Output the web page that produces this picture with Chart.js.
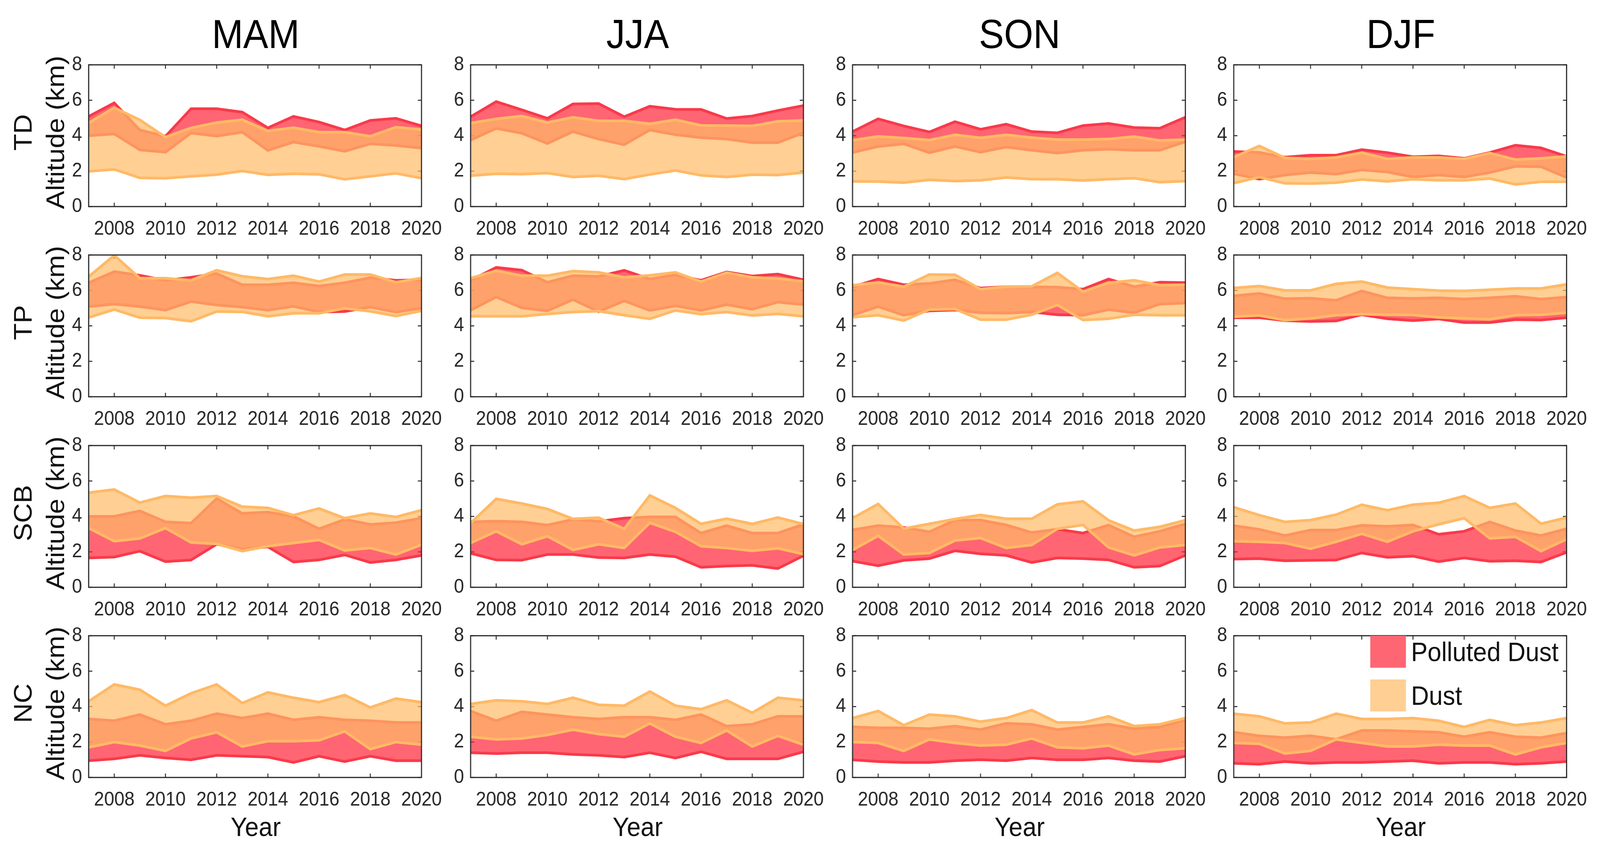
<!DOCTYPE html>
<html><head><meta charset="utf-8">
<script src="https://cdn.jsdelivr.net/npm/chart.js@4.4.1/dist/chart.umd.min.js"></script>
<style>
html,body{margin:0;padding:0;background:#fff;overflow:hidden;width:100vw;height:100vh;}
#root{position:absolute;left:0;top:0;width:4386px;height:2187px;overflow:hidden;background:#fff;font-family:'Liberation Sans',Arial,Helvetica,sans-serif;color:#111;transform-origin:0 0;}
#root canvas{position:absolute;}
.t{position:absolute;white-space:nowrap;line-height:1;}
</style></head><body><div id="root"></div>
<script>
// ---------------- data ----------------
const years = [2007,2008,2009,2010,2011,2012,2013,2014,2015,2016,2017,2018,2019,2020];
const xTickYears = [2008,2010,2012,2014,2016,2018,2020];
const yTickValues = [0,2,4,6,8];
const seasons = ['MAM','JJA','SON','DJF'];
const regions = ['TD','TP','SCB','NC'];
const legendLabels = ['Polluted Dust','Dust'];

// TD
const TD_MAM_pdLow  = [4.00,4.10,3.20,3.07,4.15,3.98,4.20,3.17,3.64,3.40,3.12,3.54,3.45,3.30];
const TD_MAM_pdHigh = [5.09,5.85,4.32,3.97,5.52,5.52,5.33,4.44,5.09,4.77,4.32,4.86,4.98,4.55];
const TD_MAM_duLow  = [1.99,2.10,1.62,1.60,1.71,1.80,2.01,1.79,1.85,1.82,1.54,1.71,1.88,1.60];
const TD_MAM_duHigh = [4.72,5.58,4.89,3.92,4.44,4.74,4.90,4.27,4.45,4.20,4.20,3.97,4.48,4.35];

const TD_JJA_pdLow  = [3.75,4.41,4.14,3.56,4.23,3.81,3.49,4.32,4.06,3.89,3.81,3.61,3.61,4.16];
const TD_JJA_pdHigh = [5.07,5.92,5.46,4.98,5.79,5.81,5.07,5.66,5.49,5.48,4.97,5.11,5.42,5.70];
const TD_JJA_duLow  = [1.74,1.85,1.83,1.89,1.67,1.74,1.55,1.81,2.04,1.76,1.67,1.80,1.78,1.92];
const TD_JJA_duHigh = [4.71,4.95,5.11,4.74,5.04,4.84,4.84,4.67,4.90,4.58,4.57,4.55,4.81,4.86];

const TD_SON_pdLow  = [3.05,3.39,3.54,3.04,3.39,3.07,3.36,3.18,3.02,3.18,3.24,3.18,3.18,3.66];
const TD_SON_pdHigh = [4.23,4.95,4.55,4.21,4.79,4.36,4.65,4.23,4.16,4.57,4.69,4.46,4.42,5.04];
const TD_SON_duLow  = [1.42,1.41,1.35,1.51,1.44,1.48,1.64,1.55,1.54,1.47,1.55,1.60,1.38,1.44];
const TD_SON_duHigh = [3.74,3.96,3.87,3.75,4.05,3.88,4.05,3.89,3.78,3.78,3.81,3.95,3.73,3.78];

const TD_DJF_pdLow  = [1.85,1.55,1.78,1.92,1.83,2.07,1.95,1.67,1.78,1.67,1.92,2.27,2.25,1.64];
const TD_DJF_pdHigh = [3.11,3.05,2.79,2.90,2.90,3.21,3.04,2.81,2.86,2.72,3.05,3.46,3.31,2.83];
const TD_DJF_duLow  = [1.32,1.67,1.31,1.30,1.35,1.53,1.42,1.54,1.48,1.48,1.58,1.25,1.40,1.40];
const TD_DJF_duHigh = [2.79,3.42,2.75,2.69,2.77,3.04,2.69,2.77,2.77,2.69,3.02,2.65,2.72,2.83];

// TP
const TP_MAM_pdLow  = [5.09,5.23,5.09,4.89,5.37,5.18,5.06,4.89,5.10,4.78,4.81,5.06,4.78,5.00];
const TP_MAM_pdHigh = [6.43,7.06,6.85,6.57,6.74,6.95,6.32,6.32,6.43,6.25,6.43,6.72,6.57,6.60];
const TP_MAM_duLow  = [4.47,4.92,4.46,4.44,4.26,4.81,4.79,4.54,4.71,4.71,4.99,4.82,4.56,4.85];
const TP_MAM_duHigh = [6.78,7.98,6.69,6.69,6.57,7.14,6.80,6.64,6.83,6.50,6.90,6.90,6.46,6.70];

const TP_JJA_pdLow  = [4.88,5.63,5.02,4.85,5.48,4.80,5.41,4.87,5.13,4.87,5.20,4.94,5.34,5.20];
const TP_JJA_pdHigh = [6.57,7.30,7.14,6.46,6.83,6.79,7.13,6.64,6.88,6.57,7.04,6.81,6.92,6.60];
const TP_JJA_duLow  = [4.54,4.54,4.54,4.67,4.78,4.83,4.60,4.40,4.87,4.66,4.78,4.59,4.68,4.54];
const TP_JJA_duHigh = [6.69,7.11,6.83,6.83,7.09,7.02,6.74,6.85,7.02,6.50,7.00,6.74,6.67,6.51];

const TP_SON_pdLow  = [4.60,5.09,4.60,4.85,4.89,4.74,4.72,4.78,4.63,4.60,4.92,4.74,5.23,5.29];
const TP_SON_pdHigh = [6.20,6.64,6.32,6.39,6.60,6.13,6.21,6.20,6.18,6.07,6.64,6.21,6.46,6.44];
const TP_SON_duLow  = [4.49,4.60,4.30,4.92,4.95,4.35,4.35,4.63,5.18,4.33,4.40,4.63,4.60,4.60];
const TP_SON_duHigh = [6.29,6.45,6.21,6.90,6.88,6.07,6.21,6.23,6.99,5.93,6.43,6.57,6.30,6.32];

const TP_DJF_pdLow  = [4.46,4.46,4.30,4.25,4.28,4.63,4.40,4.30,4.39,4.19,4.19,4.35,4.33,4.46];
const TP_DJF_pdHigh = [5.69,5.83,5.53,5.56,5.44,5.97,5.58,5.55,5.58,5.51,5.58,5.67,5.51,5.62];
const TP_DJF_duLow  = [4.52,4.59,4.32,4.42,4.60,4.66,4.63,4.61,4.48,4.42,4.37,4.60,4.63,4.74];
const TP_DJF_duHigh = [6.14,6.25,6.00,6.00,6.37,6.50,6.16,6.07,5.99,5.97,6.04,6.11,6.11,6.34];

// SCB
const SCB_MAM_pdLow  = [1.66,1.71,2.04,1.45,1.54,2.43,2.15,2.28,1.43,1.55,1.83,1.40,1.55,1.80];
const SCB_MAM_pdHigh = [4.00,4.00,4.31,3.69,3.62,5.01,4.17,4.24,4.00,3.30,3.83,3.55,3.65,3.90];
const SCB_MAM_duLow  = [3.34,2.60,2.76,3.34,2.53,2.45,2.04,2.32,2.50,2.67,2.08,2.22,1.85,2.40];
const SCB_MAM_duHigh = [5.34,5.52,4.78,5.15,5.06,5.15,4.55,4.48,4.07,4.45,3.90,4.17,3.97,4.35];

const SCB_JJA_pdLow  = [1.92,1.55,1.53,1.85,1.85,1.68,1.66,1.85,1.73,1.13,1.20,1.24,1.06,1.78];
const SCB_JJA_pdHigh = [3.69,3.73,3.69,3.51,3.83,3.72,3.90,3.97,3.97,3.06,3.48,3.06,3.06,3.55];
const SCB_JJA_duLow  = [2.50,3.16,2.43,2.88,2.11,2.43,2.22,3.64,3.13,2.32,2.22,2.06,2.20,1.87];
const SCB_JJA_duHigh = [3.62,4.99,4.73,4.42,3.86,3.93,3.30,5.19,4.48,3.58,3.87,3.58,3.94,3.57];

const SCB_SON_pdLow  = [1.48,1.22,1.52,1.62,2.06,1.89,1.80,1.40,1.66,1.62,1.55,1.13,1.20,1.80];
const SCB_SON_pdHigh = [3.24,3.48,3.38,3.13,3.79,3.79,3.52,3.09,3.28,3.06,3.51,2.85,3.16,3.58];
const SCB_SON_duLow  = [2.11,2.90,1.85,1.94,2.64,2.78,2.22,2.39,3.30,3.52,2.25,1.80,2.25,2.39];
const SCB_SON_duHigh = [3.90,4.70,3.31,3.58,3.85,4.08,3.87,3.87,4.68,4.85,3.78,3.20,3.41,3.79];

const SCB_DJF_pdLow  = [1.59,1.62,1.50,1.52,1.54,1.94,1.69,1.76,1.45,1.66,1.47,1.50,1.43,1.97];
const SCB_DJF_pdHigh = [3.48,3.27,2.92,3.23,3.23,3.50,3.44,3.52,2.99,3.16,3.69,3.20,2.92,3.30];
const SCB_DJF_duLow  = [2.60,2.57,2.50,2.18,2.57,3.02,2.57,3.16,3.55,3.90,2.76,2.85,2.04,2.71];
const SCB_DJF_duHigh = [4.52,4.07,3.69,3.79,4.10,4.66,4.35,4.66,4.77,5.15,4.48,4.73,3.59,3.93];

// NC
const NC_MAM_pdLow  = [0.95,1.05,1.25,1.10,1.00,1.25,1.20,1.15,0.85,1.20,0.90,1.20,0.95,0.95];
const NC_MAM_pdHigh = [3.30,3.20,3.55,3.00,3.20,3.60,3.35,3.60,3.25,3.40,3.25,3.20,3.10,3.10];
const NC_MAM_duLow  = [1.70,2.00,1.80,1.50,2.20,2.55,1.75,2.05,2.05,2.10,2.60,1.60,2.00,1.85];
const NC_MAM_duHigh = [4.30,5.25,4.95,4.05,4.75,5.25,4.20,4.80,4.50,4.25,4.65,3.95,4.45,4.25];

const NC_JJA_pdLow  = [1.40,1.35,1.40,1.40,1.30,1.25,1.15,1.40,1.10,1.45,1.05,1.05,1.05,1.45];
const NC_JJA_pdHigh = [3.75,3.20,3.70,3.55,3.40,3.30,3.40,3.40,3.25,3.55,2.90,3.00,3.45,3.45];
const NC_JJA_duLow  = [2.30,2.15,2.20,2.40,2.70,2.45,2.30,3.05,2.30,1.95,2.65,1.75,2.35,1.85];
const NC_JJA_duHigh = [4.15,4.35,4.30,4.15,4.50,4.10,4.05,4.85,4.05,3.85,4.35,3.65,4.50,4.35];

const NC_SON_pdLow  = [1.00,0.90,0.85,0.85,0.95,1.00,0.95,1.10,1.00,1.00,1.10,0.95,0.90,1.20];
const NC_SON_pdHigh = [2.85,2.80,2.80,2.75,2.90,2.70,3.05,3.00,2.70,2.85,3.00,2.75,2.85,3.25];
const NC_SON_duLow  = [2.00,1.95,1.50,2.15,1.95,1.80,1.85,2.20,1.70,1.65,1.80,1.30,1.55,1.65];
const NC_SON_duHigh = [3.35,3.75,2.95,3.55,3.45,3.15,3.35,3.80,3.10,3.10,3.45,2.90,3.00,3.35];

const NC_DJF_pdLow  = [0.80,0.75,0.90,0.80,0.85,0.85,0.90,0.95,0.80,0.85,0.85,0.75,0.80,0.90];
const NC_DJF_pdHigh = [2.55,2.35,2.25,2.35,2.15,2.65,2.65,2.60,2.55,2.30,2.55,2.30,2.25,2.50];
const NC_DJF_duLow  = [1.95,1.90,1.35,1.50,2.15,1.95,1.75,1.75,1.85,1.80,1.80,1.30,1.70,1.95];
const NC_DJF_duHigh = [3.60,3.45,3.05,3.10,3.60,3.30,3.30,3.35,3.20,2.85,3.25,2.95,3.10,3.35];

// panel table built from the named arrays
const panelSeries = [
  [
    [TD_MAM_pdLow,TD_MAM_pdHigh,TD_MAM_duLow,TD_MAM_duHigh],
    [TD_JJA_pdLow,TD_JJA_pdHigh,TD_JJA_duLow,TD_JJA_duHigh],
    [TD_SON_pdLow,TD_SON_pdHigh,TD_SON_duLow,TD_SON_duHigh],
    [TD_DJF_pdLow,TD_DJF_pdHigh,TD_DJF_duLow,TD_DJF_duHigh]
  ],[
    [TP_MAM_pdLow,TP_MAM_pdHigh,TP_MAM_duLow,TP_MAM_duHigh],
    [TP_JJA_pdLow,TP_JJA_pdHigh,TP_JJA_duLow,TP_JJA_duHigh],
    [TP_SON_pdLow,TP_SON_pdHigh,TP_SON_duLow,TP_SON_duHigh],
    [TP_DJF_pdLow,TP_DJF_pdHigh,TP_DJF_duLow,TP_DJF_duHigh]
  ],[
    [SCB_MAM_pdLow,SCB_MAM_pdHigh,SCB_MAM_duLow,SCB_MAM_duHigh],
    [SCB_JJA_pdLow,SCB_JJA_pdHigh,SCB_JJA_duLow,SCB_JJA_duHigh],
    [SCB_SON_pdLow,SCB_SON_pdHigh,SCB_SON_duLow,SCB_SON_duHigh],
    [SCB_DJF_pdLow,SCB_DJF_pdHigh,SCB_DJF_duLow,SCB_DJF_duHigh]
  ],[
    [NC_MAM_pdLow,NC_MAM_pdHigh,NC_MAM_duLow,NC_MAM_duHigh],
    [NC_JJA_pdLow,NC_JJA_pdHigh,NC_JJA_duLow,NC_JJA_duHigh],
    [NC_SON_pdLow,NC_SON_pdHigh,NC_SON_duLow,NC_SON_duHigh],
    [NC_DJF_pdLow,NC_DJF_pdHigh,NC_DJF_duLow,NC_DJF_duHigh]
  ]
];

// ---------------- layout & style ----------------
const DESIGN_W = 4386, DESIGN_H = 2187;
const colLeft = [243,1290,2337,3382];
const rowTop  = [148,635,1123,1610];
const PW = 916, PH = 381;
const PAD_L = 120, PAD_T = 30, PAD_R = 80, PAD_B = 100;
const PD_LINE = 'rgb(249,58,74)';
const PD_FILL = 'rgba(255,36,55,0.7)';
const DU_LINE = 'rgb(255,185,102)';
const DU_FILL = 'rgba(255,186,102,0.7)';
const AXIS = '#262626';
const LW = 7, TL = 10;
const FONT = "'Liberation Sans', Arial, sans-serif";

const root = document.getElementById('root');
// fit the design box to the actual window
const vw = window.innerWidth || document.documentElement.clientWidth || DESIGN_W;
const vh = window.innerHeight || document.documentElement.clientHeight || DESIGN_H;
const sx = vw / DESIGN_W, sy = vh / DESIGN_H;
if (Math.abs(sx-1) > 0.002 || Math.abs(sy-1) > 0.002) root.style.transform = `scale(${sx},${sy})`;
const DPR = (window.devicePixelRatio || 1) * Math.max(sx, sy, 0.5);

const boxPlugin = {
  id:'matlabBox',
  beforeDatasetsDraw(chart){
    const {ctx, chartArea:a, scales:{x,y}} = chart;
    ctx.save();
    ctx.strokeStyle = AXIS; ctx.lineWidth = 2.5; ctx.beginPath();
    xTickYears.forEach(v=>{const px=x.getPixelForValue(v);
      ctx.moveTo(px,a.bottom); ctx.lineTo(px,a.bottom-TL);
      ctx.moveTo(px,a.top); ctx.lineTo(px,a.top+TL);});
    yTickValues.forEach(v=>{const py=y.getPixelForValue(v);
      ctx.moveTo(a.left,py); ctx.lineTo(a.left+TL,py);
      ctx.moveTo(a.right,py); ctx.lineTo(a.right-TL,py);});
    ctx.stroke(); ctx.restore();
  },
  afterDatasetsDraw(chart){
    const {ctx, chartArea:a} = chart;
    ctx.save(); ctx.strokeStyle = AXIS; ctx.lineWidth = 3;
    ctx.strokeRect(a.left, a.top, a.right-a.left, a.bottom-a.top);
    ctx.restore();
  }
};

function addText(txt, left, top, size, extra){
  const d = document.createElement('div');
  d.className = 't'; d.textContent = txt;
  d.style.left = left+'px'; d.style.top = top+'px'; d.style.fontSize = size+'px';
  if (extra) Object.assign(d.style, extra);
  root.appendChild(d); return d;
}

function makePanel(r, c){
  const [pdLow, pdHigh, duLow, duHigh] = panelSeries[r][c];
  const cv = document.createElement('canvas');
  const W = PW+PAD_L+PAD_R, H = PH+PAD_T+PAD_B;
  cv.style.width = W+'px'; cv.style.height = H+'px';
  cv.style.left = (colLeft[c]-PAD_L)+'px'; cv.style.top = (rowTop[r]-PAD_T)+'px';
  cv.width = W; cv.height = H;
  root.appendChild(cv);
  const pts = arr => years.map((yr,i)=>({x:yr, y:arr[i]}));
  const tickFont = {family:FONT, size:50};
  new Chart(cv, {
    type:'line',
    data:{datasets:[
      {label:legendLabels[0]+' bottom', data:pts(pdLow), borderColor:PD_LINE, borderWidth:LW, fill:false, order:3},
      {label:legendLabels[0], data:pts(pdHigh), borderColor:PD_LINE, borderWidth:LW, backgroundColor:PD_FILL, fill:0, order:4},
      {label:legendLabels[1]+' bottom', data:pts(duLow), borderColor:DU_LINE, borderWidth:LW, fill:false, order:1},
      {label:legendLabels[1], data:pts(duHigh), borderColor:DU_LINE, borderWidth:LW, backgroundColor:DU_FILL, fill:2, order:2}
    ]},
    options:{
      responsive:false, animation:false, devicePixelRatio:DPR,
      layout:{padding:{left:0, top:PAD_T, right:PAD_R, bottom:0}},
      elements:{point:{radius:0, hoverRadius:0}, line:{tension:0, borderJoinStyle:'miter', borderCapStyle:'butt'}},
      plugins:{legend:{display:false}, tooltip:{enabled:false}},
      events:[],
      scales:{
        x:{type:'linear', min:2007, max:2020,
           afterBuildTicks:sc=>{sc.ticks = xTickYears.map(v=>({value:v}));},
           afterFit:sc=>{sc.height = PAD_B;},
           grid:{display:false, drawTicks:false}, border:{display:false},
           ticks:{padding:28, font:tickFont, color:AXIS, maxRotation:0, minRotation:0, autoSkip:false, callback:v=>String(v)}},
        y:{type:'linear', min:0, max:8,
           afterBuildTicks:sc=>{sc.ticks = yTickValues.map(v=>({value:v}));},
           afterFit:sc=>{sc.width = PAD_L;},
           grid:{display:false, drawTicks:false}, border:{display:false},
           ticks:{padding:18, font:tickFont, color:AXIS, callback:v=>String(v)}}
      }
    },
    plugins:[boxPlugin]
  });
}

for (let r=0;r<4;r++) for (let c=0;c<4;c++) makePanel(r,c);

// column titles
seasons.forEach((s,c)=>{
  addText(s, colLeft[c]+PW/2, 36, 103, {transform:'translateX(-50%)', color:'#000'});
});
// row labels
regions.forEach((g,r)=>{
  const cy = rowTop[r]+PH/2;
  addText(g, 63, cy, 70, {transform:'translate(-50%,-50%) rotate(-90deg)'});
  addText('Altitude (km)', 152, cy, 70, {transform:'translate(-50%,-50%) rotate(-90deg)'});
});
// x axis titles
seasons.forEach((s,c)=>{
  addText('Year', colLeft[c]+PW/2, 2117, 68, {transform:'translate(-50%,-50%)'});
});
// legend (inside NC-DJF panel)
const lg = [[legendLabels[0], 'rgb(255,102,115)', 1628],[legendLabels[1], 'rgb(255,207,148)', 1740]];
lg.forEach(([t,col,top])=>{
  const b = document.createElement('div');
  Object.assign(b.style,{position:'absolute', left:'3756px', top:top+'px', width:'98px', height:'82px', background:col});
  root.appendChild(b);
  addText(t, 3868, top+41, 68, {transform:'translateY(-50%)'});
});
</script>
</body></html>
